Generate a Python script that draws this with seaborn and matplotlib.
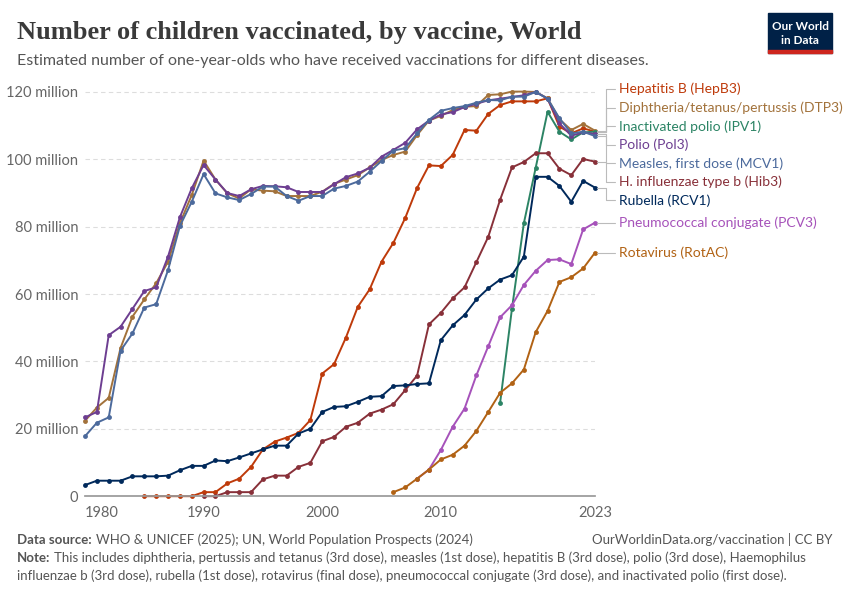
import matplotlib
matplotlib.use("Agg")
import matplotlib.pyplot as plt
import seaborn as sns
import pandas as pd
import numpy as np
from matplotlib.patches import Rectangle

years_full = list(range(1980, 2024))
dtp3 = [22.4,26.3,29.2,44,53.3,58.4,63.2,69.6,81,89.4,99.6,94,89.9,88.4,91.1,90.7,90.5,89.1,89.1,89.1,90.4,92.7,94,95.3,97.6,99.8,101.3,102.3,107.2,111.5,112.9,114.6,115.6,115.8,119.1,119.3,120.1,120.1,120,118.1,111.9,108.7,110.5,108.5]
pol3 = [23.4,25,47.8,50.3,55.6,60.9,62,71.1,82.8,91.4,98.3,94,90,89.1,91.1,92.1,92,91.7,90.3,90.3,90.3,92.6,94.7,95.8,97.5,100.8,102.8,104.9,108.9,111.5,113.3,114,115.5,116.5,117.5,118,118.5,119,120,118,110.7,107,108,107.5]
mcv1 = [17.8,21.8,23.4,43.2,48.3,56,57,67.1,80.2,87.4,95.6,89.9,88.7,87.9,89.7,91.9,91.9,89.1,87.7,89.1,89.1,91.3,92.1,93.4,96.3,99.5,102.6,103.3,107.7,111.7,114.4,115.2,115.8,116.8,117.6,117.5,118.6,118.6,120,118,112.2,107.7,108.2,106.9]
rcv1 = [3.3,4.6,4.6,4.6,5.9,5.9,5.9,6.1,7.7,9,9,10.6,10.4,11.5,12.7,13.9,15,15,18.6,20,25,26.5,26.7,28,29.5,29.7,32.7,32.9,33.3,33.5,46.3,50.7,53.8,58.4,61.7,64.3,65.6,71.1,94.8,94.8,92.1,87.4,93.6,91.6]
years_hepb = list(range(1985, 2024))
hepb3 = [0,0,0,0,0,1.2,1.2,3.8,5.2,8.7,13.9,16.2,17.4,18.8,22.6,36.4,39.2,47.1,56.2,61.4,69.6,75.2,82.6,91.5,98.2,98,101.3,108.7,108.5,113.5,116.1,117.2,117.2,117.2,118.1,109.7,107.7,109.2,108.2]
years_hib = list(range(1990, 2024))
hib3 = [0,0,1.2,1.2,1.2,5,6.1,6.1,8.7,9.9,16.3,17.6,20.6,21.8,24.5,25.7,27.3,31.5,35.8,51,54.4,58.7,62,69.5,77,88,97.6,99.2,101.8,101.8,97.2,95.3,100.1,99.3]
years_ipv = list(range(2015, 2024))
ipv1 = [27.7,55.7,81,97.5,114.1,108.2,105.9,108,108.2]
years_pcv = list(range(2008, 2024))
pcv3 = [5.2,7.9,13.7,20.6,26,35.9,44.5,53.1,56.7,62.7,66.9,70.1,70.3,68.9,79.2,81.2]
years_rota = list(range(2006, 2024))
rota = [1.2,2.6,5.2,7.9,10.9,12.3,15,19.4,25,30.7,33.5,37.6,48.7,55,63.6,65,67.6,72.3]

names = ["Hepatitis B (HepB3)", "Diphtheria/tetanus/pertussis (DTP3)", "Inactivated polio (IPV1)",
         "Polio (Pol3)", "Measles, first dose (MCV1)", "H. influenzae type b (Hib3)",
         "Rubella (RCV1)", "Pneumococcal conjugate (PCV3)", "Rotavirus (RotAC)"]
colors = ["#BE3A0A", "#A2723B", "#2C8465", "#6D3E91", "#4C6A9C", "#883039", "#00295B", "#A652BA", "#B16214"]
series = [(years_hepb, hepb3), (years_full, dtp3), (years_ipv, ipv1), (years_full, pol3),
          (years_full, mcv1), (years_hib, hib3), (years_full, rcv1), (years_pcv, pcv3), (years_rota, rota)]

rows = []
for n, (yy, vv) in zip(names, series):
    for y, v in zip(yy, vv):
        rows.append((n, y, v))
df = pd.DataFrame(rows, columns=["vaccine", "year", "value"])

sns.set_theme(style="white")
plt.rcParams['font.family'] = ['Lato', 'DejaVu Sans']
fig = plt.figure(figsize=(8.5, 6), dpi=100)
ax = fig.add_axes([0.1, 0.173, 0.6, 0.685])
sns.lineplot(data=df, x="year", y="value", hue="vaccine", hue_order=names, palette=colors,
             marker="o", markersize=3.5, markeredgewidth=0, linewidth=1.4, ax=ax, legend=False, clip_on=False)
ax.set_xlim(1980, 2023)
ax.set_ylim(0, 122)
ax.set_yticks([0, 20, 40, 60, 80, 100, 120])
ax.set_yticklabels(["0"] + [f"{v} million" for v in [20, 40, 60, 80, 100, 120]], color="#666666", fontsize=10.5)
ax.set_xticks([1980, 1990, 2000, 2010, 2023])
ax.set_xticklabels(["1980", "1990", "2000", "2010", "2023"], color="#666666", fontsize=10.5)
ax.tick_params(axis="y", length=0, pad=5)
ax.tick_params(axis="x", length=4, color="#999999", pad=3)
for lab in ax.get_xticklabels():
    if lab.get_text() == "1980":
        lab.set_horizontalalignment("left")
ax.grid(axis="y", color="#dddddd", linestyle=(0, (4, 3)), linewidth=0.8)
for s in ["top", "right", "left"]:
    ax.spines[s].set_visible(False)
ax.spines["bottom"].set_color("#999999")
ax.set_xlabel(""); ax.set_ylabel("")

# label placement
lasts = np.array([v[-1] for _, v in series])
gap = 5.5
pos = lasts.copy()
order = list(range(len(names)))
for _ in range(500):
    moved = False
    for i in range(len(order) - 1):
        a, b = order[i], order[i + 1]
        if pos[a] - pos[b] < gap - 1e-6:
            d = (gap - (pos[a] - pos[b])) / 2
            pos[a] += d; pos[b] -= d; moved = True
    if not moved:
        break
for i, n in enumerate(names):
    x0 = 2023.15
    xb = 2023.9
    xl = 2024.7
    ax.plot([x0, xb, xb, xl], [lasts[i], lasts[i], pos[i], pos[i]], color="#bbbbbb", lw=0.8, clip_on=False)
    ax.text(xl + 0.3, pos[i], n, color=colors[i], fontsize=10, va="center", ha="left")

fig.text(0.02, 0.945, "Number of children vaccinated, by vaccine, World", fontsize=19, fontweight="bold",
         family=["Liberation Serif", "DejaVu Serif"], color="#3a3a3a", va="center")
fig.text(0.02, 0.898, "Estimated number of one-year-olds who have received vaccinations for different diseases.",
         fontsize=11.5, color="#555555", va="center")
# logo
fig.patches.append(Rectangle((0.904, 0.912), 0.075, 0.066, transform=fig.transFigure, color="#002147"))
fig.patches.append(Rectangle((0.904, 0.912), 0.075, 0.005, transform=fig.transFigure, color="#CE261E"))
fig.text(0.9415, 0.956, "Our World", color="white", fontsize=8.5, ha="center", va="center", fontweight="bold")
fig.text(0.9415, 0.933, "in Data", color="white", fontsize=8.5, ha="center", va="center", fontweight="bold")

fig.text(0.02, 0.1, "Data source:", fontsize=9.5, fontweight="bold", color="#555555", va="center")
fig.text(0.113, 0.1, "WHO & UNICEF (2025); UN, World Population Prospects (2024)", fontsize=9.5, color="#555555", va="center")
fig.text(0.98, 0.1, "OurWorldinData.org/vaccination | CC BY", fontsize=9.5, color="#555555", va="center", ha="right")
fig.text(0.02, 0.07, "Note:", fontsize=9.5, fontweight="bold", color="#555555", va="center")
fig.text(0.063, 0.07, "This includes diphtheria, pertussis and tetanus (3rd dose), measles (1st dose), hepatitis B (3rd dose), polio (3rd dose), Haemophilus",
         fontsize=9.5, color="#555555", va="center")
fig.text(0.02, 0.04, "influenzae b (3rd dose), rubella (1st dose), rotavirus (final dose), pneumococcal conjugate (3rd dose), and inactivated polio (first dose).",
         fontsize=9.5, color="#555555", va="center")
fig.savefig("out.png", dpi=100)
